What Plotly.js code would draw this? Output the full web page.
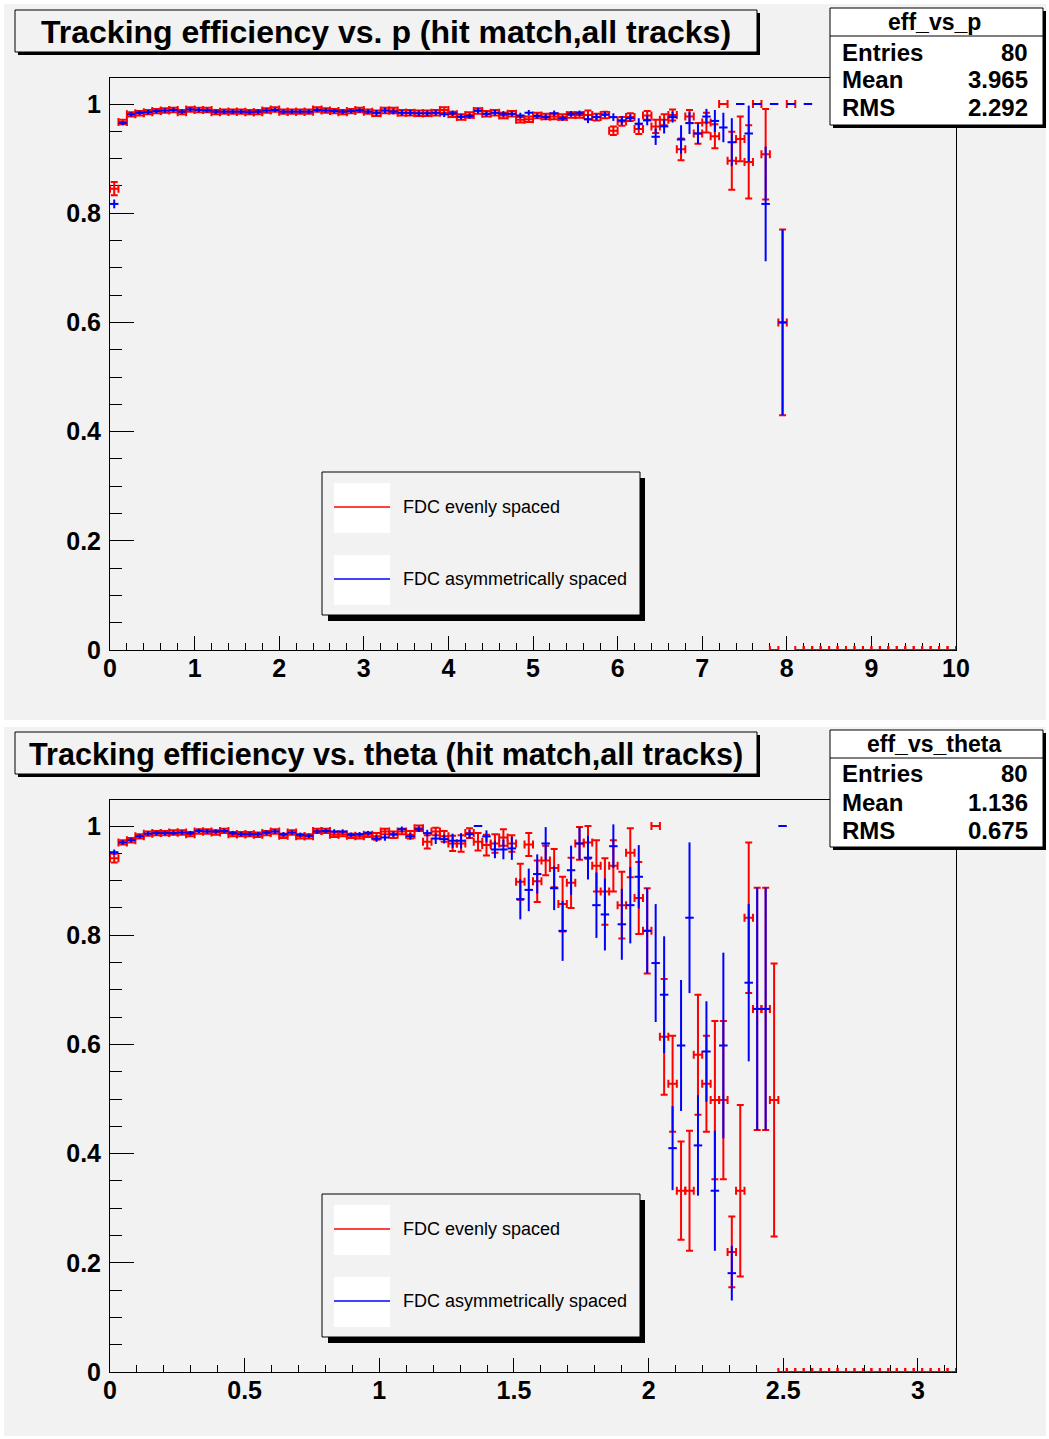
<!DOCTYPE html>
<html>
<head>
<meta charset="utf-8">
<script src="https://cdn.plot.ly/plotly-3.0.1.min.js"></script>
<style>html,body{margin:0;padding:0;background:#fff;}#chart{width:1049px;height:1439px;}</style>
</head>
<body>
<div id="chart"></div>
<script>
// ---------------- DATA ----------------
const seriesNames = ["FDC evenly spaced", "FDC asymmetrically spaced"];
const nBins = 100;
const pRange = [0, 10];
const thetaRange = [0, Math.PI];

// efficiency vs p (bins of 0.1 GeV)
const effP_even = [
 0.845,0.967,0.981,0.983,0.985,0.987,0.988,0.989,0.985,0.990,
 0.989,0.989,0.985,0.986,0.986,0.986,0.985,0.985,0.988,0.990,
 0.986,0.986,0.986,0.986,0.990,0.988,0.987,0.985,0.987,0.989,
 0.986,0.983,0.988,0.988,0.984,0.984,0.983,0.983,0.984,0.989,
 0.981,0.976,0.980,0.987,0.982,0.984,0.979,0.982,0.971,0.972,
 0.979,0.977,0.977,0.976,0.980,0.980,0.980,0.976,0.980,0.951,
 0.968,0.976,0.954,0.979,0.959,0.971,0.980,0.917,0.977,0.946,
 0.966,0.941,1.000,0.896,0.936,0.894,1.000,0.908,0,0.600,
 1.000,0,0,0,0,0,0,0,0,0,
 0,0,0,0,0,0,0,0,0,0];
const errP_even = [
 0.012,0.004,0.004,0.004,0.004,0.004,0.004,0.004,0.004,0.004,
 0.004,0.004,0.004,0.004,0.004,0.004,0.004,0.004,0.004,0.004,
 0.004,0.004,0.004,0.004,0.004,0.004,0.004,0.004,0.004,0.004,
 0.004,0.005,0.005,0.005,0.005,0.005,0.005,0.005,0.005,0.005,
 0.005,0.005,0.005,0.005,0.005,0.005,0.005,0.005,0.005,0.005,
 0.005,0.005,0.005,0.005,0.005,0.005,0.008,0.006,0.006,0.008,
 0.008,0.007,0.009,0.008,0.012,0.010,0.010,0.020,0.012,0.019,
 0.018,0.022,0,0.053,0.041,0.067,0,0.083,0,0.170,
 0,0,0,0,0,0,0,0,0,0,
 0,0,0,0,0,0,0,0,0,0];
const effP_asym = [
 0.817,0.965,0.981,0.984,0.985,0.987,0.988,0.989,0.986,0.990,
 0.989,0.988,0.986,0.986,0.986,0.986,0.985,0.986,0.988,0.989,
 0.986,0.986,0.986,0.986,0.989,0.988,0.987,0.986,0.987,0.988,
 0.986,0.984,0.988,0.986,0.984,0.984,0.983,0.983,0.984,0.981,
 0.983,0.977,0.978,0.988,0.982,0.984,0.982,0.982,0.979,0.984,
 0.978,0.976,0.983,0.974,0.982,0.983,0.972,0.976,0.981,0.976,
 0.970,0.974,0.964,0.970,0.940,0.959,0.976,0.935,0.965,0.946,
 0.977,0.969,0.957,0.930,1.000,0.946,1.000,0.817,1.000,0.600,
 1.000,null,1.000,null,null,null,null,null,null,null,
 null,null,null,null,null,null,null,null,null,null];
const errP_asym = [
 0.008,0.004,0.004,0.004,0.004,0.004,0.004,0.004,0.004,0.004,
 0.004,0.004,0.004,0.004,0.004,0.004,0.004,0.004,0.004,0.004,
 0.004,0.004,0.004,0.004,0.004,0.004,0.004,0.004,0.004,0.004,
 0.004,0.005,0.005,0.005,0.005,0.005,0.005,0.005,0.005,0.005,
 0.005,0.005,0.005,0.005,0.005,0.005,0.005,0.005,0.005,0.005,
 0.005,0.005,0.005,0.005,0.005,0.005,0.007,0.006,0.005,0.007,
 0.008,0.007,0.010,0.009,0.015,0.013,0.010,0.026,0.020,0.019,
 0.014,0.020,0.027,0.044,0,0.051,0,0.105,0,0.170,
 0,0,0,0,0,0,0,0,0,0,
 0,0,0,0,0,0,0,0,0,0];

// efficiency vs theta (bins of pi/100 rad)
const effT_even = [
 0.941,0.970,0.974,0.981,0.986,0.987,0.987,0.988,0.988,0.985,
 0.990,0.990,0.988,0.991,0.985,0.985,0.985,0.984,0.987,0.990,
 0.982,0.988,0.981,0.981,0.991,0.991,0.984,0.985,0.982,0.981,
 0.984,0.981,0.990,0.984,0.990,0.984,0.996,0.971,0.990,0.981,
 0.968,0.968,0.987,0.971,0.965,0.968,0.979,0.968,0.898,0.966,
 0.899,0.937,0.923,0.857,0.896,0.968,0.970,0.927,0.880,0.927,
 0.855,0.951,0.868,0.808,1.000,0.614,0.528,0.332,0.332,0.581,
 0.528,0.498,0.498,0.220,0.332,0.832,0.665,0.665,0.498,0,
 0,0,0,0,0,0,0,0,0,0,
 0,0,0,0,0,0,0,0,0,0];
const errT_even = [
 0.008,0.004,0.004,0.004,0.004,0.004,0.004,0.004,0.004,0.004,
 0.004,0.004,0.004,0.004,0.004,0.004,0.004,0.004,0.004,0.004,
 0.004,0.004,0.004,0.004,0.004,0.004,0.004,0.004,0.004,0.004,
 0.004,0.006,0.005,0.006,0.005,0.007,0.005,0.012,0.007,0.010,
 0.014,0.015,0.009,0.016,0.019,0.017,0.015,0.015,0.033,0.021,
 0.038,0.027,0.035,0.050,0.046,0.030,0.030,0.047,0.061,0.047,
 0.061,0.045,0.066,0.078,0,0.106,0.088,0.090,0.110,0.110,
 0.088,0.145,0.145,0.065,0.157,0.138,0.222,0.222,0.250,0,
 0,0,0,0,0,0,0,0,0,0,
 0,0,0,0,0,0,0,0,0,0];
const effT_asym = [
 0.952,0.970,0.974,0.981,0.986,0.987,0.987,0.987,0.988,0.987,
 0.991,0.990,0.990,0.991,0.987,0.985,0.985,0.985,0.988,0.990,
 0.985,0.988,0.984,0.982,0.990,0.991,0.990,0.990,0.984,0.985,
 0.987,0.977,0.979,0.985,0.994,0.981,0.994,0.987,0.977,0.976,
 0.973,0.973,0.985,1.000,0.981,0.957,0.957,0.959,0.866,0.883,
 0.912,0.968,0.886,0.808,0.919,0.968,0.942,0.855,0.838,0.963,
 0.820,0.855,0.907,0.808,0.749,0.691,0.410,0.598,0.832,0.415,
 0.587,0.332,0.598,0.181,null,0.713,0.665,0.665,null,1.000,
 null,null,null,null,null,null,null,null,null,null,
 null,null,null,null,null,null,null,null,null,null];
const errT_asym = [
 0.005,0.004,0.004,0.004,0.004,0.004,0.004,0.004,0.004,0.004,
 0.004,0.004,0.004,0.004,0.004,0.004,0.004,0.004,0.004,0.004,
 0.004,0.004,0.004,0.004,0.004,0.004,0.004,0.004,0.004,0.004,
 0.004,0.006,0.006,0.005,0.005,0.006,0.005,0.006,0.010,0.008,
 0.013,0.014,0.008,0,0.011,0.016,0.018,0.021,0.037,0.039,
 0.036,0.030,0.040,0.055,0.045,0.030,0.040,0.060,0.066,0.040,
 0.065,0.070,0.058,0.078,0.108,0.107,0.077,0.120,0.138,0.092,
 0.092,0.110,0.170,0.050,0,0.144,0.222,0.222,0,0,
 0,0,0,0,0,0,0,0,0,0,
 0,0,0,0,0,0,0,0,0,0];

const titles = ["Tracking efficiency vs. p (hit match,all tracks)",
                "Tracking efficiency vs. theta (hit match,all tracks)"];
const titleSizes = [32, 30.6];
const statNames = ["eff_vs_p", "eff_vs_theta"];
const statLabels = ["Entries", "Mean", "RMS"];
const statValsP = ["80", "3.965", "2.292"];
const statValsT = ["80", "1.136", "0.675"];
const pTickLabels = ["0","1","2","3","4","5","6","7","8","9","10"];
const thetaTickLabels = ["0","0.5","1","1.5","2","2.5","3"];
const yTickLabels = ["0","0.2","0.4","0.6","0.8","1"];

// ---------------- BUILD ----------------
const W = 1049, H = 1439;
const X = px => px / W;
const Y = py => 1 - py / H;
const RED = "#ff0000", BLUE = "#0000ff";
const FONT = "Liberation Sans";

function centers(r) {
  const bw = (r[1] - r[0]) / nBins;
  return Array.from({length: nBins}, (_, k) => r[0] + (k + 0.5) * bw);
}
const pC = centers(pRange), tC = centers(thetaRange);
const bwP = (pRange[1] - pRange[0]) / nBins, bwT = (thetaRange[1] - thetaRange[0]) / nBins;

function trace(x, y, err, bw, color, caps, xa, ya, name) {
  return {
    type: "scatter", mode: "markers", x: x, y: y, name: name, xaxis: xa, yaxis: ya,
    showlegend: false, cliponaxis: false, hoverinfo: "x+y",
    marker: {size: 1, color: color},
    error_y: {type: "data", array: err, visible: true, color: color, thickness: 2, width: caps ? 3.5 : 0},
    error_x: {type: "constant", value: bw / 2, visible: true, color: color, thickness: 2, width: caps ? 4 : 0}
  };
}

const data = [
  trace(pC, effP_even, errP_even, bwP, RED, true, "x", "y", seriesNames[0]),
  trace(pC, effP_asym, errP_asym, bwP, BLUE, false, "x", "y", seriesNames[1]),
  trace(tC, effT_even, errT_even, bwT, RED, true, "x2", "y2", seriesNames[0]),
  trace(tC, effT_asym, errT_asym, bwT, BLUE, false, "x2", "y2", seriesNames[1])
];

const tickFont = {family: FONT, size: 25, color: "#000", weight: "bold"};
function xAxis(range, minor, labels, anchor) {
  return {
    domain: [X(110), X(956)], range: range, anchor: anchor, fixedrange: true,
    tickmode: "array", tickvals: labels.map(Number), ticktext: labels,
    ticks: "inside", ticklen: 14, tickwidth: 1, tickcolor: "#000",
    minor: {dtick: minor, tick0: 0, ticks: "inside", ticklen: 7, tickwidth: 1, tickcolor: "#000", showgrid: false},
    showline: true, linecolor: "#000", linewidth: 1, mirror: true, layer: "below traces",
    showgrid: false, zeroline: false, tickfont: tickFont, ticklabelstandoff: -4
  };
}
function yAxis(domain, anchor) {
  return {
    domain: domain, range: [0, 572/546], anchor: anchor, fixedrange: true,
    tickmode: "array", tickvals: yTickLabels.map(Number), ticktext: yTickLabels,
    ticks: "inside", ticklen: 24, tickwidth: 1, tickcolor: "#000",
    minor: {dtick: 0.05, tick0: 0, ticks: "inside", ticklen: 12, tickwidth: 1, tickcolor: "#000", showgrid: false},
    showline: true, linecolor: "#000", linewidth: 1, mirror: true, layer: "below traces",
    showgrid: false, zeroline: false, tickfont: tickFont, ticklabelstandoff: 3
  };
}

const shapes = [];
const annotations = [];
function rect(x0, y0, x1, y1, fill, line, layer) {
  shapes.push({type: "rect", xref: "paper", yref: "paper", x0: X(x0), x1: X(x1), y0: Y(y0), y1: Y(y1),
    fillcolor: fill, line: {color: line || "rgba(0,0,0,0)", width: line ? 1 : 0}, layer: layer || "above"});
}
function hline(x0, x1, y, color, w) {
  shapes.push({type: "line", xref: "paper", yref: "paper", x0: X(x0), x1: X(x1), y0: Y(y), y1: Y(y),
    line: {color: color, width: w}, layer: "above"});
}
function text(str, px, py, size, bold, anchor) {
  annotations.push({xref: "paper", yref: "paper", x: X(px), y: Y(py), text: str, showarrow: false,
    xanchor: anchor || "center", yanchor: "middle",
    font: {family: FONT, size: size, color: "#000", weight: bold ? "bold" : "normal"}});
}

// pads
rect(4, 4, 1046, 720, "#f2f2f2", null, "below");
rect(4, 727, 1046, 1436, "#f2f2f2", null, "below");

function panel(off, title, tsize, statName, statVals) {
  rect(18, 13 + off, 760, 55 + off, "#000", null);
  rect(15, 10 + off, 757, 52 + off, "#f2f2f2", "#000");
  text(title, 386, 32 + off, tsize, true);
  rect(833, 11 + off, 1046, 128 + off, "#000", null);
  rect(830, 8 + off, 1043, 125 + off, "#ffffff", "#000");
  hline(830, 1043, 36 + off, "#000", 1);
  text(statName, 934, 22 + off, 23, true);
  statLabels.forEach((l, i) => {
    text(l, 840, 52 + off + 28 * i, 24, true, "left");
    text(statVals[i], 1030, 52 + off + 28 * i, 24, true, "right");
  });
  rect(328, 478 + off, 645, 621 + off, "#000", null);
  rect(322, 472 + off, 640, 615 + off, "#f2f2f2", "#000");
  rect(334, 483 + off, 390, 533 + off, "#ffffff", null);
  rect(334, 555 + off, 390, 605 + off, "#ffffff", null);
  hline(334, 390, 507 + off, RED, 1.4);
  hline(334, 390, 579 + off, BLUE, 1.4);
  text(seriesNames[0], 401, 507 + off, 18, false, "left");
  text(seriesNames[1], 401, 579 + off, 18, false, "left");
}
panel(0, titles[0], titleSizes[0], statNames[0], statValsP);
panel(722, titles[1], titleSizes[1], statNames[1], statValsT);

const layout = {
  width: W, height: H, margin: {l: 0, r: 0, t: 0, b: 0},
  paper_bgcolor: "#ffffff", plot_bgcolor: "rgba(0,0,0,0)",
  showlegend: false,
  xaxis: xAxis(pRange, 0.2, pTickLabels, "y"),
  yaxis: yAxis([Y(650), Y(78)], "x"),
  xaxis2: xAxis(thetaRange, 0.1, thetaTickLabels, "y2"),
  yaxis2: yAxis([Y(1372), Y(800)], "x2"),
  shapes: shapes, annotations: annotations
};

Plotly.newPlot("chart", data, layout, {staticPlot: true, displayModeBar: false});
</script>
</body>
</html>
